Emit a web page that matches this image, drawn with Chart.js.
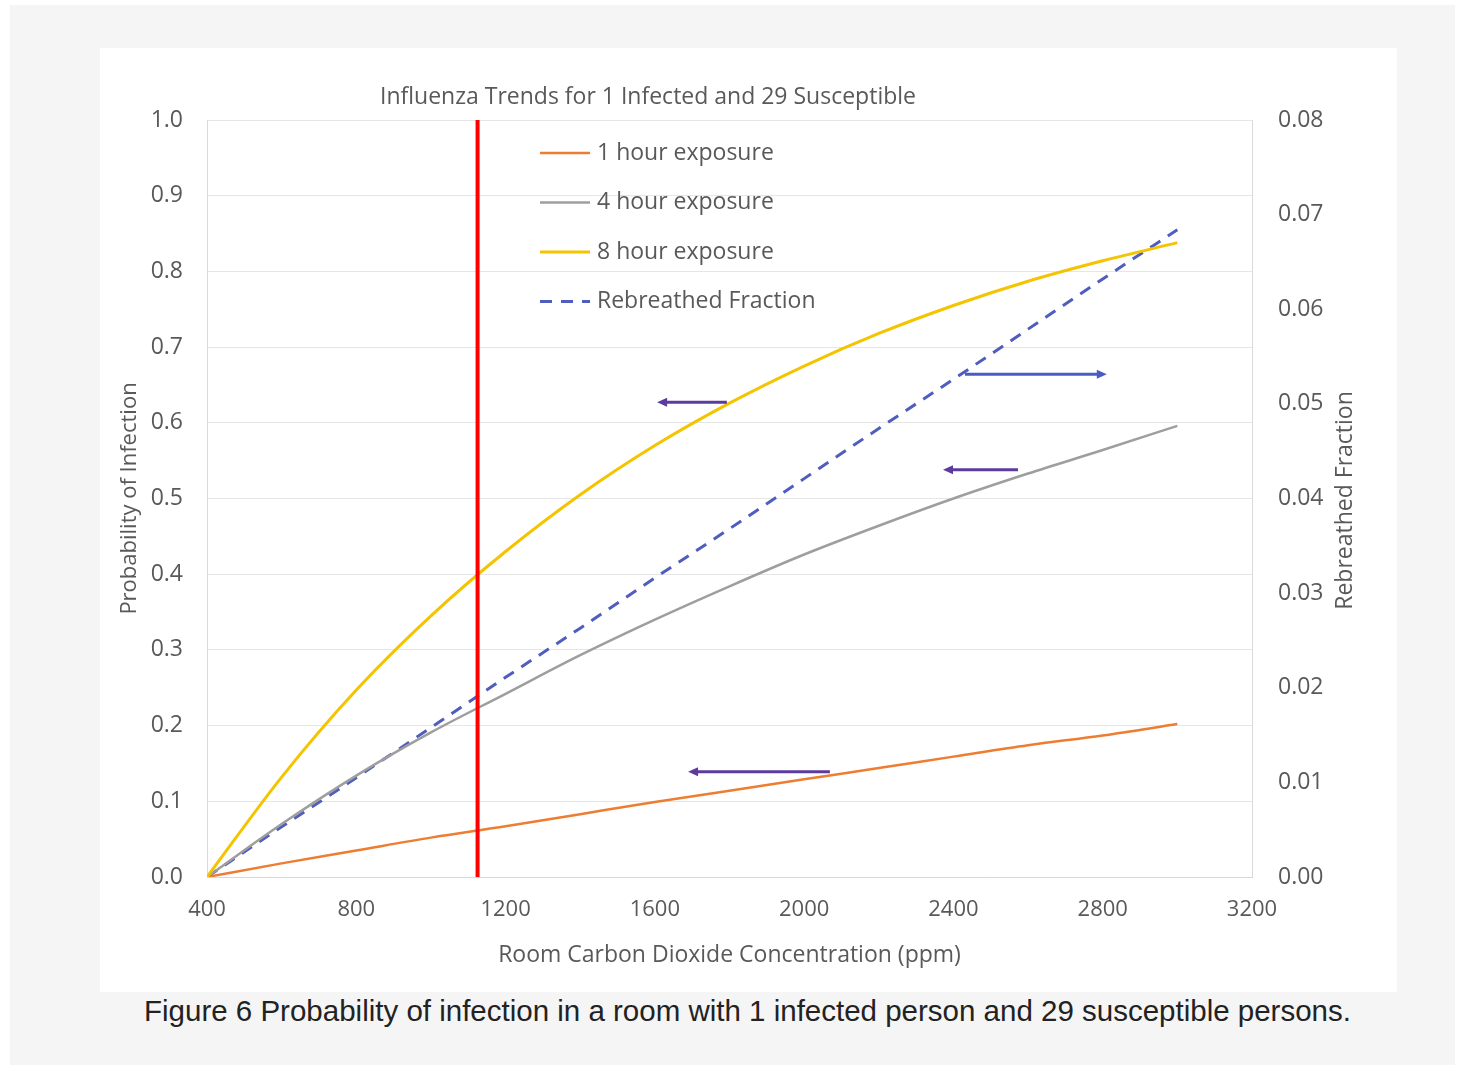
<!DOCTYPE html>
<html>
<head>
<meta charset="utf-8">
<script src="https://cdn.jsdelivr.net/npm/chart.js@4.4.0/dist/chart.umd.min.js"></script>
<style>
  body { margin: 0; background: #fff; width: 1460px; height: 1070px; position: relative; overflow: hidden; }
  .frame { position: absolute; left: 10px; top: 5px; width: 1445px; height: 1060px; background: #f5f5f5; }
  .card { position: absolute; left: 100px; top: 48px; width: 1297px; height: 944px; background: #fff; }
  #chartWrap { position: absolute; left: 100px; top: 50px; width: 1295px; height: 940px; }
  .caption { position: absolute; left: 0; width: 1495px; top: 994px; text-align: center;
    font-family: "Liberation Sans", Arial, sans-serif; font-size: 29.5px; color: #222; }
</style>
</head>
<body>
<div class="frame"></div>
<div class="card"></div>
<div id="chartWrap"><canvas id="fluChart" width="1295" height="940"></canvas></div>
<div class="caption">Figure 6 Probability of infection in a room with 1 infected person and 29 susceptible persons.</div>
<script>
const ppm = [400, 600, 800, 1000, 1200, 1400, 1600, 1800, 2000, 2200, 2400, 2600, 2800, 3000];
const oneHour = [0, 0.018, 0.035, 0.052, 0.067, 0.083, 0.099, 0.114, 0.129, 0.144, 0.159, 0.174, 0.187, 0.202];
const fourHour = [0, 0.070, 0.134, 0.191, 0.242, 0.293, 0.340, 0.384, 0.426, 0.464, 0.500, 0.533, 0.564, 0.596];
const eightHour = [0, 0.132, 0.247, 0.345, 0.430, 0.505, 0.570, 0.626, 0.675, 0.718, 0.755, 0.787, 0.814, 0.838];
const rebreathed = [0, 0.0053, 0.0105, 0.0158, 0.0211, 0.0263, 0.0316, 0.0368, 0.0421, 0.0474, 0.0526, 0.0579, 0.0632, 0.0684];
const thresholdPpm = 1125;

// annotation arrows: [fromPpm, toPpm, probability level]
const arrows = [
    { from: 1793, to: 1606, level: 0.627, color: '#5b3c9e' },
    { from: 2431, to: 2811, level: 0.664, color: '#4a5cc4' },
    { from: 2573, to: 2372, level: 0.538, color: '#5b3c9e' },
    { from: 2069, to: 1689, level: 0.139, color: '#5b3c9e' }
];

const textColor = '#595959';
const fontFamily = '"Open Sans", "Noto Sans", sans-serif';

function pts(values) {
    return ppm.map((x, i) => ({ x: x, y: values[i] }));
}

const overlayPlugin = {
    id: 'overlay',
    afterDatasetsDraw(chart) {
        const ctx = chart.ctx;
        const area = chart.chartArea;
        const xs = chart.scales.x;
        const ys = chart.scales.y;

        // arrows
        arrows.forEach(a => {
            const x1 = xs.getPixelForValue(a.from);
            const x2 = xs.getPixelForValue(a.to);
            const y = ys.getPixelForValue(a.level);
            const dir = Math.sign(x2 - x1);
            ctx.save();
            ctx.strokeStyle = a.color;
            ctx.fillStyle = a.color;
            ctx.lineWidth = 3;
            ctx.beginPath();
            ctx.moveTo(x1, y);
            ctx.lineTo(x2 - dir * 6, y);
            ctx.stroke();
            ctx.beginPath();
            ctx.moveTo(x2, y);
            ctx.lineTo(x2 - dir * 10, y - 4.5);
            ctx.lineTo(x2 - dir * 10, y + 4.5);
            ctx.closePath();
            ctx.fill();
            ctx.restore();
        });

        // legend inside plot
        const lx = area.left + 333;
        let ly = area.top + 33;
        ctx.save();
        ctx.font = '23px ' + fontFamily;
        ctx.textBaseline = 'middle';
        chart.data.datasets.forEach(ds => {
            if (!ds.label) return;
            ctx.strokeStyle = ds.borderColor;
            ctx.lineWidth = ds.borderWidth;
            ctx.setLineDash(ds.borderDash || []);
            ctx.beginPath();
            ctx.moveTo(lx, ly);
            ctx.lineTo(lx + 50, ly);
            ctx.stroke();
            ctx.setLineDash([]);
            ctx.fillStyle = textColor;
            ctx.fillText(ds.label, lx + 57, ly);
            ly += 49.5;
        });
        ctx.restore();

        // chart title
        ctx.save();
        ctx.font = '23px ' + fontFamily;
        ctx.fillStyle = textColor;
        ctx.textAlign = 'center';
        ctx.textBaseline = 'middle';
        ctx.fillText('Influenza Trends for 1 Infected and 29 Susceptible', area.left + 441, area.top - 23);

        // right axis title, reading bottom to top
        ctx.translate(area.right + 93, (area.top + area.bottom) / 2 + 2);
        ctx.rotate(-Math.PI / 2);
        ctx.font = '23px ' + fontFamily;
        ctx.fillText('Rebreathed Fraction', 0, 0);
        ctx.restore();
    }
};

new Chart(document.getElementById('fluChart').getContext('2d'), {
    type: 'line',
    data: {
        datasets: [
            {
                label: '1 hour exposure',
                data: pts(oneHour),
                borderColor: '#ed7d31',
                borderWidth: 2.5,
                yAxisID: 'y',
                order: 3
            },
            {
                label: '4 hour exposure',
                data: pts(fourHour),
                borderColor: '#9e9e9e',
                borderWidth: 2.5,
                yAxisID: 'y',
                order: 4
            },
            {
                label: '8 hour exposure',
                data: pts(eightHour),
                borderColor: '#f4c400',
                borderWidth: 3,
                yAxisID: 'y',
                order: 2
            },
            {
                label: 'Rebreathed Fraction',
                data: pts(rebreathed),
                borderColor: '#4f5dbf',
                borderWidth: 3,
                borderDash: [12, 9],
                yAxisID: 'y2',
                order: 5
            },
            {
                label: '',
                data: [{ x: thresholdPpm, y: 0 }, { x: thresholdPpm, y: 1 }],
                borderColor: '#ff0000',
                borderWidth: 4,
                yAxisID: 'y',
                order: 1
            }
        ]
    },
    options: {
        responsive: false,
        animation: false,
        layout: { padding: { top: 70, left: 0, right: 0, bottom: 0 } },
        elements: {
            point: { radius: 0, hoverRadius: 0 },
            line: { cubicInterpolationMode: 'monotone', fill: false }
        },
        plugins: {
            legend: { display: false },
            tooltip: { enabled: false }
        },
        scales: {
            x: {
                type: 'linear',
                min: 400,
                max: 3200,
                afterFit: scale => { scale.height = 113; },
                ticks: {
                    stepSize: 400,
                    padding: 20,
                    color: textColor,
                    font: { family: fontFamily, size: 22 },
                    maxRotation: 0,
                    callback: v => String(v)
                },
                grid: { display: false, drawTicks: false },
                border: { display: true, color: '#d9d9d9', width: 1 },
                title: {
                    display: true,
                    text: 'Room Carbon Dioxide Concentration (ppm)',
                    color: textColor,
                    font: { family: fontFamily, size: 23 },
                    padding: { top: 0, bottom: 21 }
                }
            },
            y: {
                position: 'left',
                min: 0,
                max: 1,
                afterFit: scale => { scale.width = 107; },
                ticks: {
                    stepSize: 0.1,
                    padding: 24,
                    color: textColor,
                    font: { family: fontFamily, size: 23 },
                    callback: v => v.toFixed(1)
                },
                grid: { color: '#e6e6e6', lineWidth: 1, drawTicks: false },
                border: { display: true, color: '#d9d9d9', width: 1 },
                title: {
                    display: true,
                    text: 'Probability of Infection',
                    color: textColor,
                    font: { family: fontFamily, size: 22 },
                    padding: { top: 17, bottom: 0 }
                }
            },
            y2: {
                position: 'right',
                min: 0,
                max: 0.08,
                afterFit: scale => { scale.width = 143; },
                ticks: {
                    stepSize: 0.01,
                    padding: 26,
                    color: textColor,
                    font: { family: fontFamily, size: 23 },
                    callback: v => v.toFixed(2)
                },
                grid: { display: false, drawTicks: false },
                border: { display: true, color: '#d9d9d9', width: 1 }
            }
        }
    },
    plugins: [overlayPlugin]
});
</script>
</body>
</html>
